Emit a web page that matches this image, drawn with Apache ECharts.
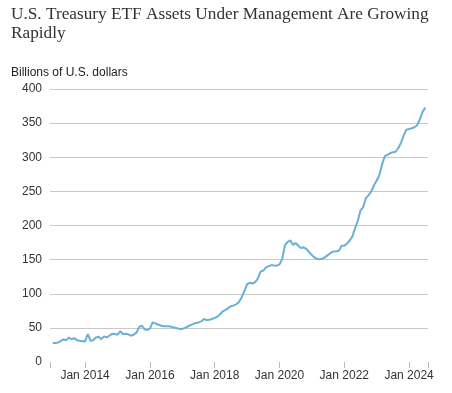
<!DOCTYPE html>
<html>
<head>
<meta charset="utf-8">
<script src="https://cdn.jsdelivr.net/npm/echarts@6/dist/echarts.min.js"></script>
<style>
    html, body { margin: 0; padding: 0; background: #fff; }
    #chart { width: 452px; height: 393px; }
</style>
</head>
<body>
<div id="chart"></div>
<script>
// months from Dec 2012 to Aug 2024 (axis range)
var years = [2013, 2014, 2015, 2016, 2017, 2018, 2019, 2020, 2021, 2022, 2023, 2024];
var monthNames = ['Jan', 'Feb', 'Mar', 'Apr', 'May', 'Jun', 'Jul', 'Aug', 'Sep', 'Oct', 'Nov', 'Dec'];
var yTicks = [0, 50, 100, 150, 200, 250, 300, 350, 400];

// Billions of U.S. dollars, monthly Jan 2013 .. Jul 2024
var assets = [
    28, 28, 28.5, 31, 33, 32, 36, 33, 35, 32, 31, 30.5,        // 2013
    30, 41, 31, 32, 36, 37, 33.5, 37.5, 36, 38.5, 41.5, 41,   // 2014
    40, 45, 41, 41.5, 40.5, 38.5, 40, 43, 51, 53.5, 48, 47,   // 2015
    49, 58, 56.5, 55, 53.5, 52.5, 52.4, 52.5, 51.5, 50.5, 49.5, 48.5, // 2016
    48.5, 50, 52, 54, 55.5, 57.3, 58, 59.5, 63, 61.5, 61.8, 63,       // 2017
    64.7, 66.5, 70, 74.3, 76.3, 79, 81.8, 83, 84.5, 88, 95, 104,      // 2018
    114, 116, 115, 117, 122.5, 132.5, 134, 138.6, 140.5, 142, 141.5, 141.2, // 2019
    143, 150.5, 171, 176, 178, 171.5, 174.5, 170, 167, 168, 165.5, 161,     // 2020
    156.5, 153, 151, 150.7, 151.5, 154, 157, 160, 162, 162.4, 163, 170.5,   // 2021
    170.5, 173.5, 178, 184, 196, 207, 222, 227, 240, 244.5, 250, 259,       // 2022
    266, 274, 289.5, 301.5, 303.5, 306, 307.4, 308, 313.5, 321, 332, 340.5, // 2023
    341.5, 342.5, 344, 347, 356, 366.5, 373                                 // 2024
];

var categories = ['Dec 2012'];
years.forEach(function (y) {
    monthNames.forEach(function (m) {
        if (y === 2024 && monthNames.indexOf(m) > 7) return;
        categories.push(m + ' ' + y);
    });
});

var seriesData = [null].concat(assets);
while (seriesData.length < categories.length) seriesData.push(null);

function isLabelMonth(idx) {
    var c = categories[idx];
    var parts = c.split(' ');
    return parts[0] === 'Jan' && parseInt(parts[1]) % 2 === 0;
}

var chart = echarts.init(document.getElementById('chart'));
chart.setOption({
    animation: false,
    title: [{
        text: 'U.S. Treasury ETF Assets Under Management Are Growing\nRapidly',
        left: 6,
        top: 0,
        textStyle: {
            fontFamily: 'Liberation Serif',
            fontSize: 17.25,
            fontWeight: 'normal',
            color: '#333',
            lineHeight: 19
        }
    }, {
        text: 'Billions of U.S. dollars',
        left: 6,
        top: 62,
        textStyle: {
            fontFamily: 'Liberation Sans',
            fontSize: 12,
            fontWeight: 'normal',
            color: '#222'
        }
    }],
    grid: { left: 50, right: 24, top: 89, bottom: 31 },
    xAxis: {
        type: 'category',
        data: categories,
        boundaryGap: false,
        axisLine: { show: false },
        axisTick: {
            show: true,
            length: 6,
            interval: function (idx) {
                return idx === 0 || idx === categories.length - 1 || isLabelMonth(idx);
            },
            lineStyle: { color: '#bbb' }
        },
        axisLabel: {
            interval: function (idx) { return isLabelMonth(idx); },
            fontFamily: 'Liberation Sans',
            fontSize: 12,
            color: '#333',
            margin: 8
        },
        splitLine: { show: false }
    },
    yAxis: {
        type: 'value',
        min: yTicks[0],
        max: yTicks[yTicks.length - 1],
        interval: 50,
        axisLine: { show: false },
        axisTick: { show: false },
        axisLabel: {
            fontFamily: 'Liberation Sans',
            fontSize: 12,
            color: '#333',
            margin: 8
        },
        splitLine: {
            show: true,
            showMinLine: false,
            lineStyle: { color: '#c8c8c8', width: 1 }
        }
    },
    series: [{
        name: 'Assets',
        type: 'line',
        data: seriesData,
        showSymbol: false,
        connectNulls: false,
        lineStyle: { color: '#6baed6', width: 2 }
    }]
});
</script>
</body>
</html>
